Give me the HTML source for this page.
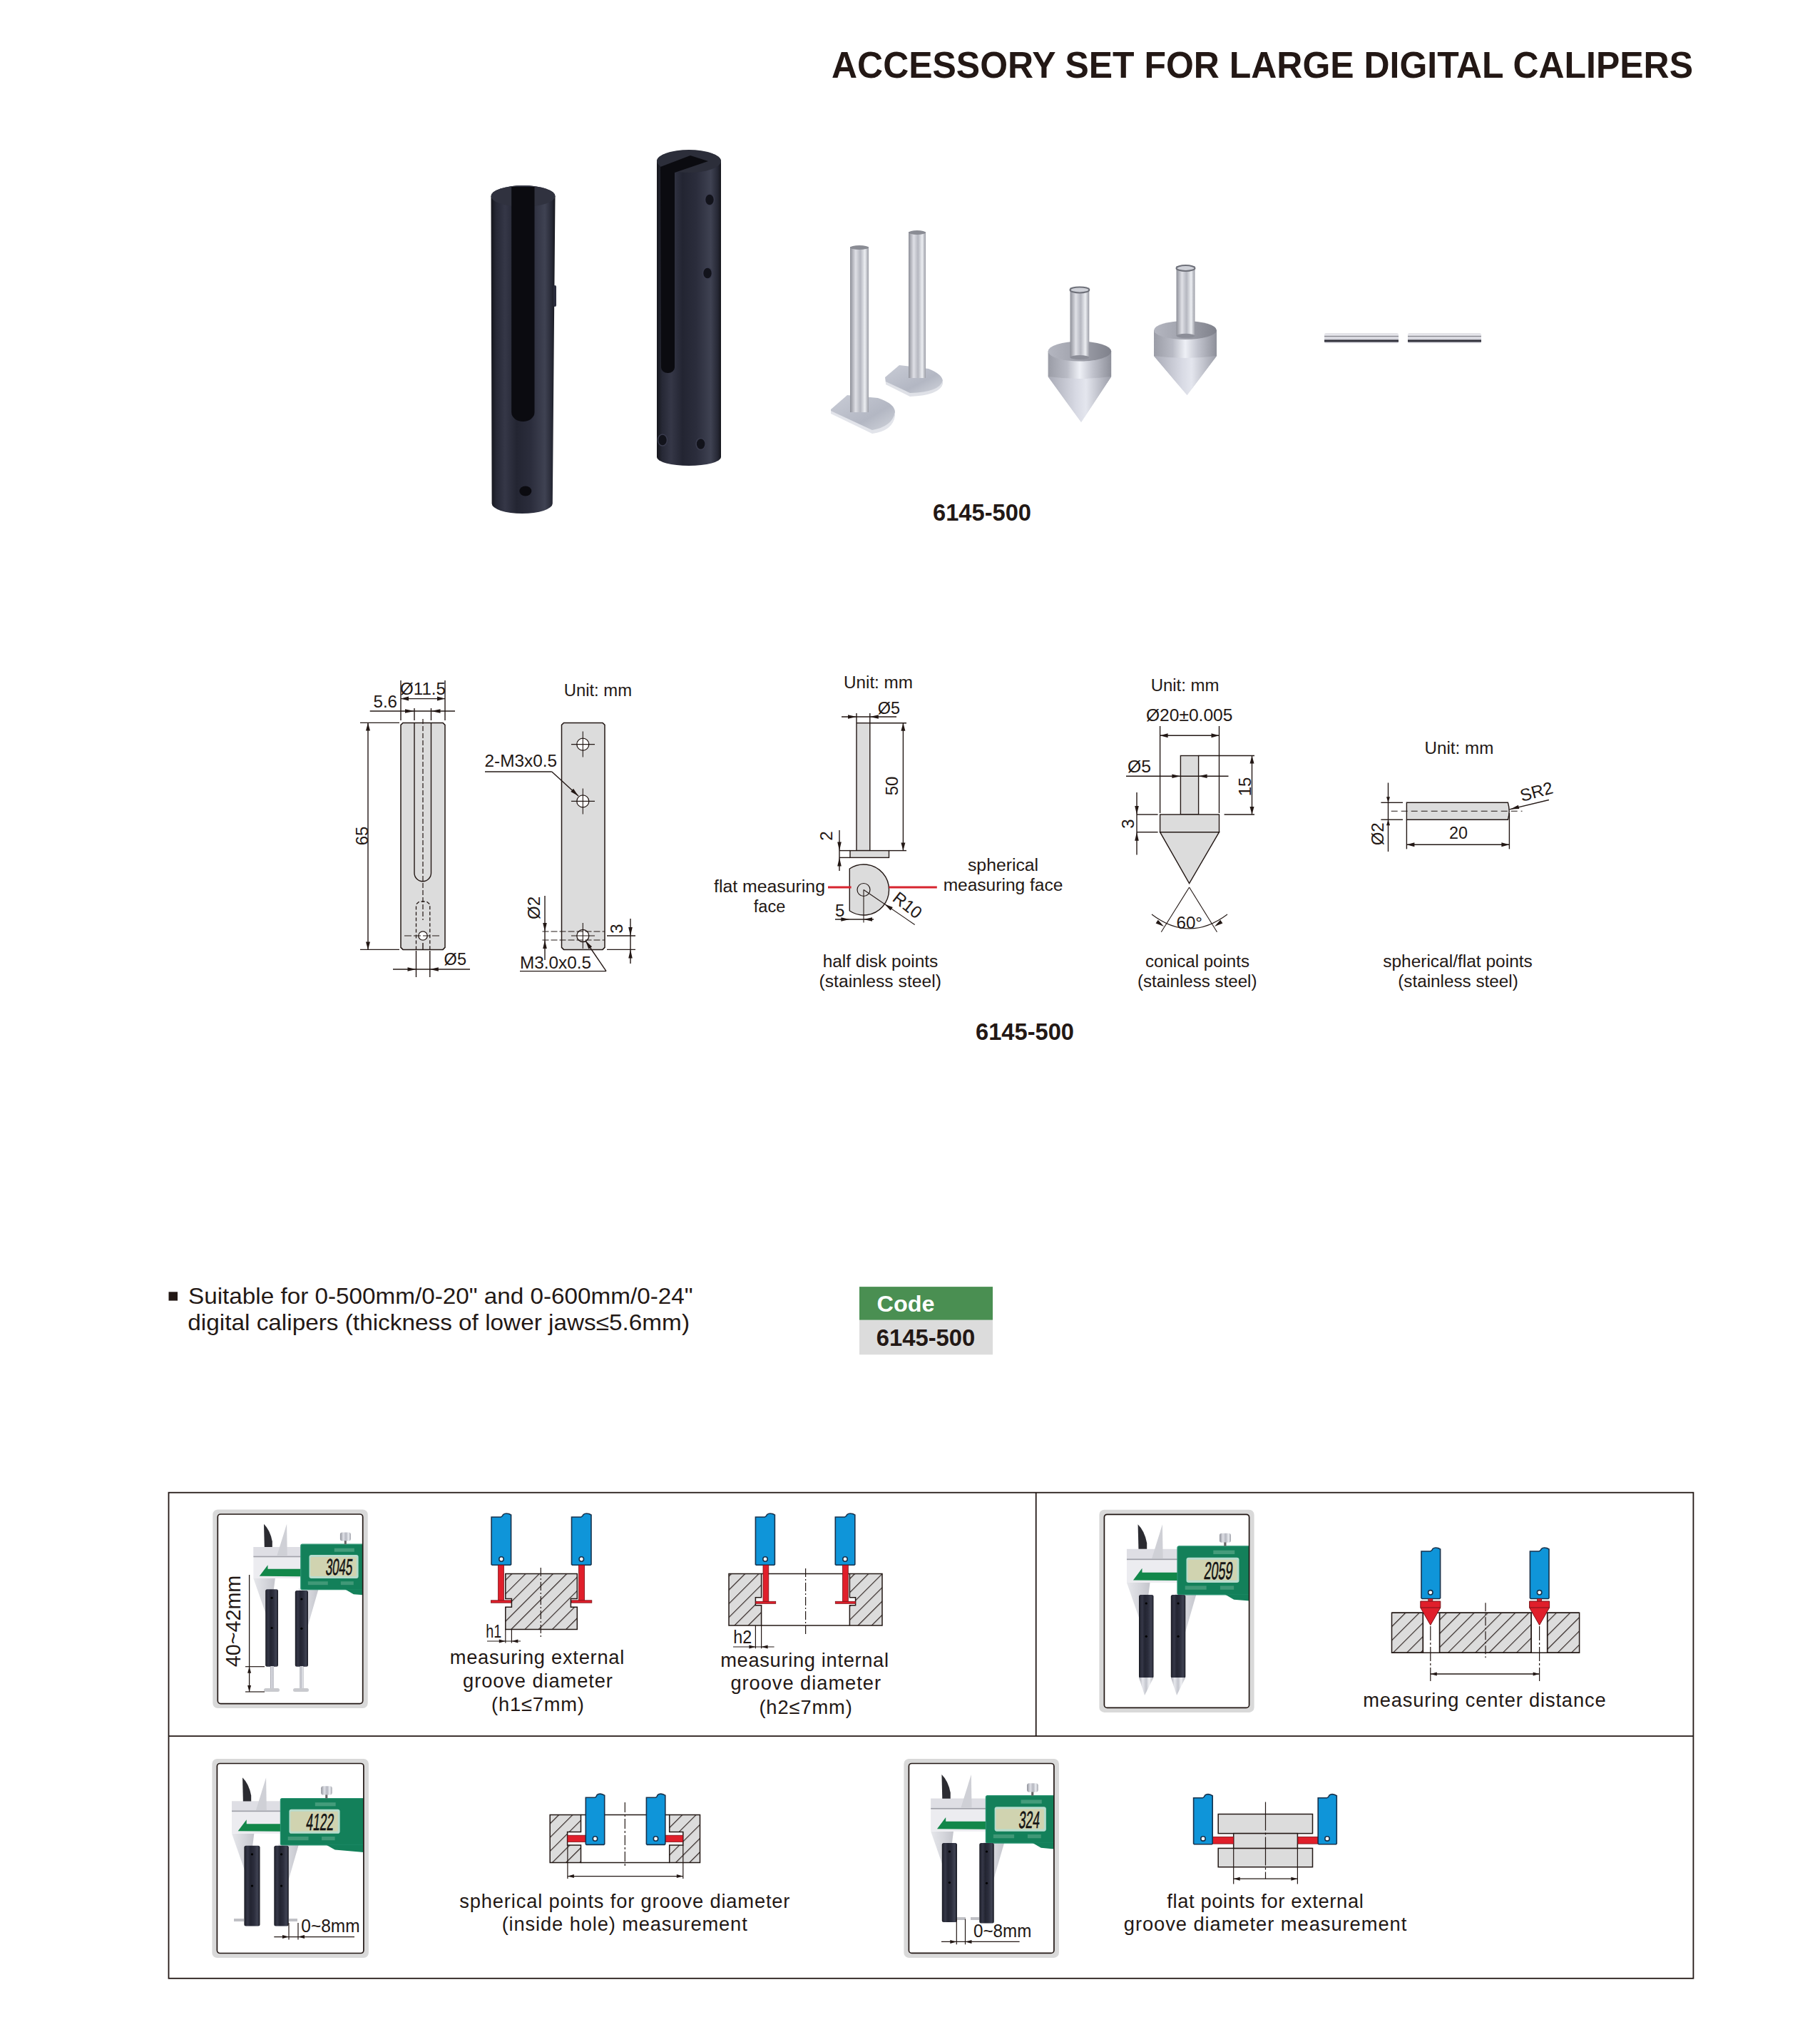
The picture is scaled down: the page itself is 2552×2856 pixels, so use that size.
<!DOCTYPE html>
<html><head><meta charset="utf-8"><style>
html,body{margin:0;padding:0;background:#fff;}
body{width:2552px;height:2856px;overflow:hidden;position:relative;}
svg{position:absolute;left:0;top:0;font-family:"Liberation Sans",sans-serif;}
</style></head><body>
<svg width="2552" height="2856" viewBox="0 0 2552 2856">
<defs>

<linearGradient id="blk" x1="0" x2="1" y1="0" y2="0">
<stop offset="0" stop-color="#15161c"/><stop offset="0.08" stop-color="#262835"/><stop offset="0.22" stop-color="#353747"/><stop offset="0.4" stop-color="#232532"/>
<stop offset="0.62" stop-color="#2b2d3c"/><stop offset="0.84" stop-color="#3f4252"/><stop offset="0.95" stop-color="#262835"/><stop offset="1" stop-color="#15161c"/></linearGradient>
<linearGradient id="cbody" x1="0" x2="1" y1="0" y2="0">
<stop offset="0" stop-color="#9a9ca6"/><stop offset="0.3" stop-color="#b9bbc5"/><stop offset="0.5" stop-color="#eef0f6"/>
<stop offset="0.7" stop-color="#c2c4ce"/><stop offset="1" stop-color="#8e909a"/></linearGradient>
<linearGradient id="ccone" x1="0" x2="1" y1="0" y2="0">
<stop offset="0" stop-color="#a9abb6"/><stop offset="0.45" stop-color="#d8dae4"/><stop offset="0.6" stop-color="#e4e6ee"/><stop offset="1" stop-color="#9c9ea9"/></linearGradient>
<linearGradient id="ctop" x1="0" x2="1" y1="0" y2="0">
<stop offset="0" stop-color="#b4b6c0"/><stop offset="0.5" stop-color="#9fa1ab"/><stop offset="1" stop-color="#7f818b"/></linearGradient>
<linearGradient id="slv" x1="0" x2="1" y1="0" y2="0">
<stop offset="0" stop-color="#8e9099"/><stop offset="0.3" stop-color="#dfe0e6"/><stop offset="0.55" stop-color="#b5b7c0"/>
<stop offset="0.8" stop-color="#eceef2"/><stop offset="1" stop-color="#9a9ca5"/></linearGradient>
<linearGradient id="slv2" x1="0" x2="1" y1="0" y2="0">
<stop offset="0" stop-color="#a7a9b2"/><stop offset="0.25" stop-color="#e6e7ec"/><stop offset="0.5" stop-color="#c3c5cd"/>
<stop offset="0.7" stop-color="#f0f1f4"/><stop offset="1" stop-color="#b4b6be"/></linearGradient>
<linearGradient id="disk" x1="0" x2="1" y1="0" y2="1">
<stop offset="0" stop-color="#c9ccd6"/><stop offset="0.6" stop-color="#b3b7c3"/><stop offset="1" stop-color="#d4d7de"/></linearGradient>
<linearGradient id="rodg" x1="0" x2="0" y1="0" y2="1">
<stop offset="0" stop-color="#d8d8de"/><stop offset="0.2" stop-color="#eeeef3"/><stop offset="0.3" stop-color="#8c8c94"/><stop offset="0.4" stop-color="#e6e6ec"/>
<stop offset="0.6" stop-color="#d0d0d8"/><stop offset="0.7" stop-color="#35353f"/><stop offset="0.82" stop-color="#2c2c36"/><stop offset="0.9" stop-color="#c8c8d0"/><stop offset="1" stop-color="#e8e8ee"/></linearGradient>
<linearGradient id="jaw" x1="0" x2="1" y1="0" y2="0"><stop offset="0" stop-color="#e6e7eb"/><stop offset="0.6" stop-color="#d3d4da"/><stop offset="1" stop-color="#c4c5cc"/></linearGradient>
<linearGradient id="grn" x1="0" x2="0" y1="0" y2="1">
<stop offset="0" stop-color="#1d7a58"/><stop offset="1" stop-color="#166648"/></linearGradient>
<clipPath id="cf1"><rect x="305.3" y="2123" width="203.39999999999998" height="265.5999999999999" rx="4"/></clipPath><clipPath id="cf2"><rect x="1548.4" y="2123.3" width="203.19999999999982" height="271.0999999999999" rx="4"/></clipPath><clipPath id="cf3"><rect x="304.4" y="2472.5" width="205.5" height="266.0" rx="4"/></clipPath><clipPath id="cf4"><rect x="1274.4" y="2472.5" width="203.5" height="265.9000000000001" rx="4"/></clipPath>
<pattern id="hatch" patternUnits="userSpaceOnUse" width="13.6" height="13.6" patternTransform="rotate(45)">
<rect width="13.6" height="13.6" fill="#dcdcdc"/><line x1="0.6" y1="0" x2="0.6" y2="13.6" stroke="#231815" stroke-width="1.1"/>
</pattern>
</defs>
<text x="1166.0" y="108.7" font-size="52" text-anchor="start" font-weight="bold" fill="#231815" textLength="1208.0" lengthAdjust="spacingAndGlyphs">ACCESSORY SET FOR LARGE DIGITAL CALIPERS</text>
<text x="1308.0" y="730.0" font-size="33" text-anchor="start" font-weight="bold" fill="#231815" textLength="138.0" lengthAdjust="spacingAndGlyphs">6145-500</text>
<text x="1368.0" y="1457.8" font-size="33" text-anchor="start" font-weight="bold" fill="#231815" textLength="138.0" lengthAdjust="spacingAndGlyphs">6145-500</text>
<path d="M565,1013.4 H621 L624,1016.4 V1328.4 L621,1331.4 H565 L562,1328.4 V1016.4 Z" fill="#dcdcdc" stroke="#231815" stroke-width="1.5"/>
<path d="M581,1013.4 V1224 A11.75,11.75 0 0 0 604.5,1224 V1013.4" fill="none" stroke="#231815" stroke-width="1.4"/>
<line x1="593.0" y1="1008.0" x2="593.0" y2="1290.0" stroke="#231815" stroke-width="1.2" stroke-dasharray="7 3"/>
<path d="M583.5,1331.4 V1268 L588,1264 H598 L602.8,1268 V1331.4" fill="none" stroke="#231815" stroke-width="1.3" stroke-dasharray="5 3"/>
<circle cx="593" cy="1312" r="6.2" fill="white" stroke="#231815" stroke-width="1.3"/>
<line x1="567.0" y1="1312.0" x2="619.0" y2="1312.0" stroke="#231815" stroke-width="1.2" stroke-dasharray="10 3"/>
<line x1="593.0" y1="1322.0" x2="593.0" y2="1331.0" stroke="#231815" stroke-width="1.4" />
<line x1="505.0" y1="1013.4" x2="560.0" y2="1013.4" stroke="#231815" stroke-width="1.4" />
<line x1="505.0" y1="1331.4" x2="560.0" y2="1331.4" stroke="#231815" stroke-width="1.4" />
<line x1="516.0" y1="1013.4" x2="516.0" y2="1331.4" stroke="#231815" stroke-width="1.4" />
<polygon points="516.0,1013.4 519.0,1024.4 513.0,1024.4" fill="#231815"/>
<polygon points="516.0,1331.4 513.0,1320.4 519.0,1320.4" fill="#231815"/>
<text x="516.0" y="1172.0" font-size="24" text-anchor="middle" font-weight="normal" fill="#231815" transform="rotate(-90 516.0 1172.0)">65</text>
<line x1="562.0" y1="954.0" x2="562.0" y2="1010.0" stroke="#231815" stroke-width="1.4" />
<line x1="581.0" y1="993.0" x2="581.0" y2="1010.0" stroke="#231815" stroke-width="1.4" />
<line x1="604.5" y1="993.0" x2="604.5" y2="1010.0" stroke="#231815" stroke-width="1.4" />
<line x1="624.0" y1="954.0" x2="624.0" y2="1010.0" stroke="#231815" stroke-width="1.4" />
<line x1="562.0" y1="979.6" x2="624.0" y2="979.6" stroke="#231815" stroke-width="1.4" />
<polygon points="562.0,979.6 573.0,976.6 573.0,982.6" fill="#231815"/>
<polygon points="624.0,979.6 613.0,982.6 613.0,976.6" fill="#231815"/>
<text x="561.0" y="973.5" font-size="24" text-anchor="start" font-weight="normal" fill="#231815" textLength="64.0" lengthAdjust="spacingAndGlyphs">Ø11.5</text>
<line x1="518.7" y1="997.0" x2="638.0" y2="997.0" stroke="#231815" stroke-width="1.4" />
<polygon points="581.0,997.0 568.0,999.8 568.0,994.2" fill="#231815"/>
<polygon points="604.5,997.0 617.5,994.2 617.5,999.8" fill="#231815"/>
<text x="523.5" y="992.0" font-size="24" text-anchor="start" font-weight="normal" fill="#231815" textLength="33.5" lengthAdjust="spacingAndGlyphs">5.6</text>
<line x1="583.5" y1="1333.0" x2="583.5" y2="1370.0" stroke="#231815" stroke-width="1.4" />
<line x1="602.8" y1="1333.0" x2="602.8" y2="1370.0" stroke="#231815" stroke-width="1.4" />
<line x1="551.0" y1="1359.0" x2="659.0" y2="1359.0" stroke="#231815" stroke-width="1.4" />
<polygon points="583.5,1359.0 571.5,1361.8 571.5,1356.2" fill="#231815"/>
<polygon points="602.8,1359.0 614.8,1356.2 614.8,1361.8" fill="#231815"/>
<text x="622.6" y="1353.0" font-size="24" text-anchor="start" font-weight="normal" fill="#231815" textLength="31.4" lengthAdjust="spacingAndGlyphs">Ø5</text>
<path d="M790.5,1013.4 H845 L848,1016.4 V1328.4 L845,1331.4 H790.5 L787.5,1328.4 V1016.4 Z" fill="#dcdcdc" stroke="#231815" stroke-width="1.5"/>
<circle cx="817.3" cy="1043.6" r="8.5" fill="white" stroke="#231815" stroke-width="1.3"/>
<line x1="801.0" y1="1043.6" x2="834.0" y2="1043.6" stroke="#231815" stroke-width="1.1" />
<line x1="817.3" y1="1025.6" x2="817.3" y2="1061.6" stroke="#231815" stroke-width="1.1" />
<circle cx="817.3" cy="1123.4" r="8.5" fill="white" stroke="#231815" stroke-width="1.3"/>
<line x1="801.0" y1="1123.4" x2="834.0" y2="1123.4" stroke="#231815" stroke-width="1.1" />
<line x1="817.3" y1="1105.4" x2="817.3" y2="1141.4" stroke="#231815" stroke-width="1.1" />
<circle cx="817.3" cy="1312" r="8.5" fill="white" stroke="#231815" stroke-width="1.3"/>
<line x1="801.0" y1="1312.0" x2="834.0" y2="1312.0" stroke="#231815" stroke-width="1.1" />
<line x1="817.3" y1="1294.0" x2="817.3" y2="1330.0" stroke="#231815" stroke-width="1.1" />
<text x="790.7" y="976.0" font-size="23.5" text-anchor="start" font-weight="normal" fill="#231815" textLength="95.3" lengthAdjust="spacingAndGlyphs">Unit: mm</text>
<text x="679.5" y="1075.0" font-size="24" text-anchor="start" font-weight="normal" fill="#231815" textLength="101.5" lengthAdjust="spacingAndGlyphs">2-M3x0.5</text>
<line x1="680.0" y1="1082.0" x2="773.8" y2="1082.0" stroke="#231815" stroke-width="1.4" />
<line x1="773.8" y1="1082.0" x2="811.0" y2="1116.0" stroke="#231815" stroke-width="1.4" />
<polygon points="811.0,1116.0 800.3,1110.0 804.0,1105.8" fill="#231815"/>
<line x1="760.5" y1="1306.0" x2="848.0" y2="1306.0" stroke="#231815" stroke-width="1.1" stroke-dasharray="9 3"/>
<line x1="760.5" y1="1318.0" x2="848.0" y2="1318.0" stroke="#231815" stroke-width="1.1" stroke-dasharray="9 3"/>
<line x1="764.0" y1="1256.0" x2="764.0" y2="1346.0" stroke="#231815" stroke-width="1.4" />
<polygon points="764.0,1306.0 761.2,1294.0 766.8,1294.0" fill="#231815"/>
<polygon points="764.0,1318.0 766.8,1330.0 761.2,1330.0" fill="#231815"/>
<text x="757.0" y="1273.0" font-size="24" text-anchor="middle" font-weight="normal" fill="#231815" transform="rotate(-90 757.0 1273.0)">Ø2</text>
<line x1="851.0" y1="1312.0" x2="891.0" y2="1312.0" stroke="#231815" stroke-width="1.4" />
<line x1="851.0" y1="1331.4" x2="891.0" y2="1331.4" stroke="#231815" stroke-width="1.4" />
<line x1="884.0" y1="1288.0" x2="884.0" y2="1351.0" stroke="#231815" stroke-width="1.4" />
<polygon points="884.0,1312.0 881.2,1300.0 886.8,1300.0" fill="#231815"/>
<polygon points="884.0,1331.4 886.8,1343.4 881.2,1343.4" fill="#231815"/>
<text x="873.0" y="1302.0" font-size="24" text-anchor="middle" font-weight="normal" fill="#231815" transform="rotate(-90 873.0 1302.0)">3</text>
<text x="729.0" y="1358.0" font-size="24" text-anchor="start" font-weight="normal" fill="#231815" textLength="100.0" lengthAdjust="spacingAndGlyphs">M3.0x0.5</text>
<line x1="729.0" y1="1361.6" x2="850.0" y2="1361.6" stroke="#231815" stroke-width="1.4" />
<line x1="850.0" y1="1361.6" x2="821.0" y2="1319.0" stroke="#231815" stroke-width="1.4" />
<polygon points="821.0,1319.0 830.1,1327.3 825.4,1330.5" fill="#231815"/>
<text x="1183.0" y="965.0" font-size="23.5" text-anchor="start" font-weight="normal" fill="#231815" textLength="97.0" lengthAdjust="spacingAndGlyphs">Unit: mm</text>
<rect x="1201.0" y="1013.7" width="18.8" height="178.9" fill="#dcdcdc" stroke="#231815" stroke-width="1.4" />
<rect x="1192.0" y="1192.6" width="54.5" height="9.8" fill="#dcdcdc" stroke="#231815" stroke-width="1.4" />
<line x1="1201.0" y1="1000.0" x2="1201.0" y2="1013.0" stroke="#231815" stroke-width="1.4" />
<line x1="1219.8" y1="1000.0" x2="1219.8" y2="1013.0" stroke="#231815" stroke-width="1.4" />
<line x1="1180.0" y1="1005.0" x2="1257.0" y2="1005.0" stroke="#231815" stroke-width="1.4" />
<polygon points="1201.0,1005.0 1189.0,1007.8 1189.0,1002.2" fill="#231815"/>
<polygon points="1219.8,1005.0 1231.8,1002.2 1231.8,1007.8" fill="#231815"/>
<text x="1230.7" y="1001.0" font-size="24" text-anchor="start" font-weight="normal" fill="#231815" textLength="31.3" lengthAdjust="spacingAndGlyphs">Ø5</text>
<line x1="1219.8" y1="1013.7" x2="1271.0" y2="1013.7" stroke="#231815" stroke-width="1.4" />
<line x1="1246.5" y1="1192.6" x2="1271.0" y2="1192.6" stroke="#231815" stroke-width="1.4" />
<line x1="1266.4" y1="1013.7" x2="1266.4" y2="1192.6" stroke="#231815" stroke-width="1.4" />
<polygon points="1266.4,1013.7 1269.4,1024.7 1263.4,1024.7" fill="#231815"/>
<polygon points="1266.4,1192.6 1263.4,1181.6 1269.4,1181.6" fill="#231815"/>
<text x="1259.0" y="1102.0" font-size="24" text-anchor="middle" font-weight="normal" fill="#231815" transform="rotate(-90 1259.0 1102.0)">50</text>
<line x1="1177.0" y1="1192.6" x2="1192.0" y2="1192.6" stroke="#231815" stroke-width="1.4" />
<line x1="1177.0" y1="1202.4" x2="1192.0" y2="1202.4" stroke="#231815" stroke-width="1.4" />
<line x1="1177.0" y1="1164.0" x2="1177.0" y2="1221.0" stroke="#231815" stroke-width="1.4" />
<polygon points="1177.0,1192.6 1174.2,1180.6 1179.8,1180.6" fill="#231815"/>
<polygon points="1177.0,1202.4 1179.8,1214.4 1174.2,1214.4" fill="#231815"/>
<text x="1167.0" y="1172.0" font-size="24" text-anchor="middle" font-weight="normal" fill="#231815" transform="rotate(-90 1167.0 1172.0)">2</text>
<path d="M1191.3,1218.0 A35.5,35.5 0 1 1 1191.3,1277.0 Z" fill="#dcdcdc" stroke="#231815" stroke-width="1.4"/>
<circle cx="1211" cy="1247.5" r="9" fill="none" stroke="#231815" stroke-width="1.2"/>
<line x1="1211.0" y1="1247.5" x2="1211.0" y2="1293.5" stroke="#231815" stroke-width="1.1" />
<line x1="1171.0" y1="1289.0" x2="1225.0" y2="1289.0" stroke="#231815" stroke-width="1.4" />
<polygon points="1191.3,1289.0 1179.3,1291.8 1179.3,1286.2" fill="#231815"/>
<polygon points="1211.0,1289.0 1223.0,1286.2 1223.0,1291.8" fill="#231815"/>
<text x="1171.0" y="1284.6" font-size="24" text-anchor="start" font-weight="normal" fill="#231815">5</text>
<line x1="1211.0" y1="1247.5" x2="1282.7" y2="1296.5" stroke="#231815" stroke-width="1.1" />
<polygon points="1240.3,1267.5 1251.8,1272.0 1248.6,1276.6" fill="#231815"/>
<text x="1250.0" y="1262.0" font-size="24" text-anchor="start" font-weight="normal" fill="#231815" transform="rotate(38 1250.0 1262.0)">R10</text>
<line x1="1161.0" y1="1244.0" x2="1193.6" y2="1244.0" stroke="#d7242f" stroke-width="3" />
<line x1="1246.5" y1="1244.0" x2="1313.8" y2="1244.0" stroke="#d7242f" stroke-width="3" />
<text x="1079.0" y="1250.5" font-size="23.5" text-anchor="middle" font-weight="normal" fill="#231815" textLength="156.0" lengthAdjust="spacingAndGlyphs">flat measuring</text>
<text x="1079.0" y="1279.0" font-size="23.5" text-anchor="middle" font-weight="normal" fill="#231815">face</text>
<text x="1406.5" y="1221.0" font-size="23.5" text-anchor="middle" font-weight="normal" fill="#231815" textLength="99.0" lengthAdjust="spacingAndGlyphs">spherical</text>
<text x="1406.5" y="1249.0" font-size="23.5" text-anchor="middle" font-weight="normal" fill="#231815" textLength="167.7" lengthAdjust="spacingAndGlyphs">measuring face</text>
<text x="1234.5" y="1356.0" font-size="23.5" text-anchor="middle" font-weight="normal" fill="#231815" textLength="161.7" lengthAdjust="spacingAndGlyphs">half disk points</text>
<text x="1234.2" y="1384.0" font-size="23.5" text-anchor="middle" font-weight="normal" fill="#231815" textLength="171.3" lengthAdjust="spacingAndGlyphs">(stainless steel)</text>
<text x="1613.7" y="968.9" font-size="23.5" text-anchor="start" font-weight="normal" fill="#231815" textLength="95.8" lengthAdjust="spacingAndGlyphs">Unit: mm</text>
<text x="1607.0" y="1011.0" font-size="24" text-anchor="start" font-weight="normal" fill="#231815" textLength="121.4" lengthAdjust="spacingAndGlyphs">Ø20±0.005</text>
<line x1="1626.6" y1="1018.0" x2="1626.6" y2="1140.0" stroke="#231815" stroke-width="1.4" />
<line x1="1709.5" y1="1018.0" x2="1709.5" y2="1140.0" stroke="#231815" stroke-width="1.4" />
<line x1="1626.6" y1="1031.3" x2="1709.5" y2="1031.3" stroke="#231815" stroke-width="1.4" />
<polygon points="1626.6,1031.3 1637.6,1028.3 1637.6,1034.3" fill="#231815"/>
<polygon points="1709.5,1031.3 1698.5,1034.3 1698.5,1028.3" fill="#231815"/>
<rect x="1655.4" y="1059.5" width="25.2" height="82.5" fill="#dcdcdc" stroke="#231815" stroke-width="1.4" />
<rect x="1626.6" y="1142.0" width="82.9" height="24.7" fill="#dcdcdc" stroke="#231815" stroke-width="1.4" />
<polygon points="1626.6,1166.7 1709.5,1166.7 1667.6,1238.5" fill="#dcdcdc" stroke="#231815" stroke-width="1.4"/>
<text x="1581.0" y="1083.0" font-size="24" text-anchor="start" font-weight="normal" fill="#231815" textLength="33.0" lengthAdjust="spacingAndGlyphs">Ø5</text>
<line x1="1579.0" y1="1088.3" x2="1722.5" y2="1088.3" stroke="#231815" stroke-width="1.4" />
<polygon points="1655.4,1088.3 1643.4,1091.1 1643.4,1085.5" fill="#231815"/>
<polygon points="1680.6,1088.3 1692.6,1085.5 1692.6,1091.1" fill="#231815"/>
<line x1="1680.6" y1="1059.5" x2="1759.0" y2="1059.5" stroke="#231815" stroke-width="1.4" />
<line x1="1716.6" y1="1142.0" x2="1759.0" y2="1142.0" stroke="#231815" stroke-width="1.4" />
<line x1="1755.5" y1="1059.5" x2="1755.5" y2="1142.0" stroke="#231815" stroke-width="1.4" />
<polygon points="1755.5,1059.5 1758.5,1070.5 1752.5,1070.5" fill="#231815"/>
<polygon points="1755.5,1142.0 1752.5,1131.0 1758.5,1131.0" fill="#231815"/>
<text x="1754.0" y="1103.0" font-size="24" text-anchor="middle" font-weight="normal" fill="#231815" transform="rotate(-90 1754.0 1103.0)">15</text>
<line x1="1594.0" y1="1142.0" x2="1623.6" y2="1142.0" stroke="#231815" stroke-width="1.4" />
<line x1="1594.0" y1="1166.7" x2="1623.6" y2="1166.7" stroke="#231815" stroke-width="1.4" />
<line x1="1594.0" y1="1111.0" x2="1594.0" y2="1198.5" stroke="#231815" stroke-width="1.4" />
<polygon points="1594.0,1142.0 1591.2,1130.0 1596.8,1130.0" fill="#231815"/>
<polygon points="1594.0,1166.7 1596.8,1178.7 1591.2,1178.7" fill="#231815"/>
<text x="1590.0" y="1155.0" font-size="24" text-anchor="middle" font-weight="normal" fill="#231815" transform="rotate(-90 1590.0 1155.0)">3</text>
<line x1="1667.6" y1="1244.0" x2="1628.3" y2="1306.8" stroke="#231815" stroke-width="1.1" />
<line x1="1667.6" y1="1244.0" x2="1706.5" y2="1306.8" stroke="#231815" stroke-width="1.1" />
<path d="M1615,1282 Q1667.6,1322 1721,1282" fill="none" stroke="#231815" stroke-width="1.1"/>
<polygon points="1632.0,1299.0 1620.6,1294.4 1623.8,1289.8" fill="#231815"/>
<polygon points="1703.0,1299.0 1711.2,1289.8 1714.4,1294.4" fill="#231815"/>
<text x="1649.5" y="1302.0" font-size="24" text-anchor="start" font-weight="normal" fill="#231815" textLength="36.5" lengthAdjust="spacingAndGlyphs">60°</text>
<text x="1679.0" y="1356.0" font-size="23.5" text-anchor="middle" font-weight="normal" fill="#231815" textLength="146.0" lengthAdjust="spacingAndGlyphs">conical points</text>
<text x="1678.7" y="1384.0" font-size="23.5" text-anchor="middle" font-weight="normal" fill="#231815" textLength="167.5" lengthAdjust="spacingAndGlyphs">(stainless steel)</text>
<text x="1997.6" y="1057.3" font-size="23.5" text-anchor="start" font-weight="normal" fill="#231815" textLength="96.7" lengthAdjust="spacingAndGlyphs">Unit: mm</text>
<path d="M1972.4,1125.3 H2114.4 Q2118,1137.2 2114.4,1149.2 H1972.4 Z" fill="#dcdcdc" stroke="#231815" stroke-width="1.4"/>
<line x1="1950.7" y1="1137.2" x2="2134.5" y2="1137.2" stroke="#231815" stroke-width="1.1" stroke-dasharray="9 5"/>
<line x1="1936.4" y1="1125.3" x2="1967.0" y2="1125.3" stroke="#231815" stroke-width="1.4" />
<line x1="1936.4" y1="1149.2" x2="1967.0" y2="1149.2" stroke="#231815" stroke-width="1.4" />
<line x1="1946.5" y1="1097.5" x2="1946.5" y2="1194.0" stroke="#231815" stroke-width="1.4" />
<polygon points="1946.5,1125.3 1944.0,1117.3 1949.0,1117.3" fill="#231815"/>
<polygon points="1946.5,1149.2 1949.0,1157.2 1944.0,1157.2" fill="#231815"/>
<text x="1940.0" y="1169.3" font-size="24" text-anchor="middle" font-weight="normal" fill="#231815" transform="rotate(-90 1940.0 1169.3)">Ø2</text>
<line x1="1972.4" y1="1149.0" x2="1972.4" y2="1190.4" stroke="#231815" stroke-width="1.4" />
<line x1="2116.4" y1="1140.0" x2="2116.4" y2="1190.4" stroke="#231815" stroke-width="1.4" />
<line x1="1972.4" y1="1184.3" x2="2116.4" y2="1184.3" stroke="#231815" stroke-width="1.4" />
<polygon points="1972.4,1184.3 1983.4,1181.3 1983.4,1187.3" fill="#231815"/>
<polygon points="2116.4,1184.3 2105.4,1187.3 2105.4,1181.3" fill="#231815"/>
<text x="2045.0" y="1176.0" font-size="24" text-anchor="middle" font-weight="normal" fill="#231815" textLength="26.0" lengthAdjust="spacingAndGlyphs">20</text>
<line x1="2171.9" y1="1121.5" x2="2116.4" y2="1134.9" stroke="#231815" stroke-width="1.4" />
<polygon points="2118.0,1134.5 2128.9,1128.7 2130.3,1134.1" fill="#231815"/>
<text x="2134.0" y="1124.0" font-size="24" text-anchor="start" font-weight="normal" fill="#231815" transform="rotate(-15 2134.0 1124.0)">SR2</text>
<text x="2044.0" y="1356.0" font-size="23.5" text-anchor="middle" font-weight="normal" fill="#231815" textLength="209.7" lengthAdjust="spacingAndGlyphs">spherical/flat points</text>
<text x="2044.5" y="1384.0" font-size="23.5" text-anchor="middle" font-weight="normal" fill="#231815" textLength="168.5" lengthAdjust="spacingAndGlyphs">(stainless steel)</text>
<rect x="236.5" y="1811.3" width="12.5" height="12.3" fill="#231815"/>
<text x="264.0" y="1827.8" font-size="30.5" text-anchor="start" font-weight="normal" fill="#231815" textLength="707.6" lengthAdjust="spacingAndGlyphs">Suitable for 0-500mm/0-20" and 0-600mm/0-24"</text>
<text x="263.3" y="1864.7" font-size="30.5" text-anchor="start" font-weight="normal" fill="#231815" textLength="703.7" lengthAdjust="spacingAndGlyphs">digital calipers (thickness of lower jaws≤5.6mm)</text>
<rect x="1205" y="1804.1" width="187" height="46.7" fill="#4a8f52"/>
<rect x="1205" y="1850.8" width="187" height="48.5" fill="#dcdcdc"/>
<text x="1229.5" y="1839.3" font-size="31.5" text-anchor="start" font-weight="bold" fill="#ffffff" textLength="81.0" lengthAdjust="spacingAndGlyphs">Code</text>
<text x="1228.8" y="1886.8" font-size="33" text-anchor="start" font-weight="bold" fill="#231815" textLength="138.5" lengthAdjust="spacingAndGlyphs">6145-500</text>
<rect x="236.5" y="2092.7" width="2137.9" height="681.1" fill="none" stroke="#231815" stroke-width="1.8"/>
<line x1="236.5" y1="2434.1" x2="2374.4" y2="2434.1" stroke="#231815" stroke-width="1.8" />
<line x1="1452.7" y1="2092.7" x2="1452.7" y2="2434.1" stroke="#231815" stroke-width="1.8" />
<path d="M688.5,275 A45,15 0 0 1 778.5,275 L774.8,706 A42.6,14 0 0 1 689.6,706 Z" fill="url(#blk)"/>
<ellipse cx="733.5" cy="275" rx="45" ry="15" fill="#30323f"/>
<path d="M717.2,262 H749.5 V578 A16.15,13 0 0 1 717.2,578 Z" fill="#0b0b10"/>
<ellipse cx="736.8" cy="688.5" rx="8.5" ry="7" fill="#0b0b10"/>
<rect x="776" y="400" width="4" height="30" rx="2" fill="#2a2c3c"/>
<path d="M921,225 A45,14 0 0 1 1011,225 V641 A45,12 0 0 1 921,641 Z" fill="url(#blk)"/>
<ellipse cx="966" cy="226" rx="45" ry="16" fill="#2c2e3a"/>
<path d="M926,234 L968,218 L993,226 L946,242 V515 A9.5,8 0 0 1 927,515 Z" fill="#0b0b10"/>
<ellipse cx="995" cy="280" rx="6.5" ry="8" fill="#12131b" stroke="#3a3c4e" stroke-width="1.5"/>
<ellipse cx="992" cy="383" rx="6.5" ry="8" fill="#12131b" stroke="#3a3c4e" stroke-width="1.5"/>
<ellipse cx="982.6" cy="622.5" rx="6.5" ry="8" fill="#12131b" stroke="#3a3c4e" stroke-width="1.5"/>
<ellipse cx="929" cy="617" rx="6.5" ry="8" fill="#12131b" stroke="#3a3c4e" stroke-width="1.5"/>
<path d="M1165,574 L1188,554 L1231,558 Q1255,566 1255,578 Q1253,600 1223,607 L1165,579 Z" fill="url(#disk)"/>
<path d="M1165,576 L1223,603 Q1251,598 1255,578 L1255,583 Q1252,604 1223,608 L1165,580 Z" fill="#e2e4ea"/>
<rect x="1192" y="346" width="26" height="232" fill="url(#slv)"/>
<ellipse cx="1205" cy="347" rx="13" ry="3" fill="#8a8c94"/>
<path d="M1241,529 L1261,512 L1302,517 Q1322,525 1322,535 Q1318,552 1276,554 L1242,537 Z" fill="url(#disk)"/>
<path d="M1242,535 L1276,551 Q1318,550 1322,533 L1322,538 Q1318,554 1276,556 L1242,539 Z" fill="#dfe1e7"/>
<rect x="1274" y="325" width="24" height="205" fill="url(#slv)"/>
<ellipse cx="1286" cy="326" rx="12" ry="3" fill="#8a8c94"/>
<path d="M1469.6,492.6 V528 L1516,592 L1558.2,528 V492.6 Z" fill="url(#cbody)"/>
<path d="M1469.6,528 L1516,592 L1558.2,528 Q1513.9,534 1469.6,528 Z" fill="url(#ccone)"/>
<ellipse cx="1513.9" cy="492.6" rx="44.30000000000007" ry="14" fill="url(#ctop)"/>
<rect x="1500.5" y="403.4" width="26.799999999999955" height="97.60000000000002" fill="url(#slv)"/>
<ellipse cx="1513.9" cy="501.0" rx="13.399999999999977" ry="3" fill="#8c8e98"/>
<ellipse cx="1513.9" cy="406.4" rx="13.399999999999977" ry="4" fill="#cfd1d8" stroke="#6e7079" stroke-width="2"/>
<path d="M1618,463 V499 L1664.5,554 L1706,499 V463 Z" fill="url(#cbody)"/>
<path d="M1618,499 L1664.5,554 L1706,499 Q1662.0,505 1618,499 Z" fill="url(#ccone)"/>
<ellipse cx="1662.0" cy="463" rx="44.0" ry="13" fill="url(#ctop)"/>
<rect x="1649.5" y="373" width="26.0" height="97.80000000000001" fill="url(#slv)"/>
<ellipse cx="1662.5" cy="470.8" rx="13.0" ry="3" fill="#8c8e98"/>
<ellipse cx="1662.5" cy="376" rx="13.0" ry="4" fill="#cfd1d8" stroke="#6e7079" stroke-width="2"/>
<rect x="1857" y="467.3" width="104" height="14" rx="2" fill="url(#rodg)"/>
<rect x="1974" y="467.3" width="103" height="14" rx="2" fill="url(#rodg)"/>
<path d="M708.8,2206.5 H809.3 V2241.4 H800.4 V2253.2 H809.3 V2284.6 H708.8 V2253.2 H717.4 V2241.4 H708.8 Z" fill="url(#hatch)" stroke="#231815" stroke-width="1.5"/>
<line x1="758.3" y1="2198.0" x2="758.3" y2="2295.6" stroke="#231815" stroke-width="1.2" stroke-dasharray="12 3 2 3"/>
<path d="M689.1,2127 L702.3,2127 Q704.5,2126.5 705.6,2123.5 Q708.4,2121 713.6,2122.5 L716.6,2124 V2193.3 L715.6,2194.3 H690.1 L689.1,2193.3 Z" fill="#0f95d9" stroke="#17324d" stroke-width="1.6"/>
<circle cx="703" cy="2186" r="3.2" fill="#fff" stroke="#17324d" stroke-width="1.6"/>
<path d="M801.5,2127 L814.7,2127 Q816.9,2126.5 818.0,2123.5 Q820.8,2121 826.0,2122.5 L829,2124 V2193.3 L828,2194.3 H802.5 L801.5,2193.3 Z" fill="#0f95d9" stroke="#17324d" stroke-width="1.6"/>
<circle cx="815.3" cy="2186" r="3.2" fill="#fff" stroke="#17324d" stroke-width="1.6"/>
<rect x="698.6" y="2194.3" width="7.8" height="50" fill="#e01f2b" stroke="#7a1218" stroke-width="0.8"/>
<rect x="688.4" y="2243.8" width="28.2" height="3.4" fill="#e01f2b" stroke="#7a1218" stroke-width="0.8"/>
<rect x="811.4" y="2194.3" width="8.2" height="50" fill="#e01f2b" stroke="#7a1218" stroke-width="0.8"/>
<rect x="801.5" y="2243.8" width="28.3" height="3.4" fill="#e01f2b" stroke="#7a1218" stroke-width="0.8"/>
<line x1="708.8" y1="2284.0" x2="708.8" y2="2303.5" stroke="#231815" stroke-width="1.2" />
<line x1="717.4" y1="2284.0" x2="717.4" y2="2303.5" stroke="#231815" stroke-width="1.2" />
<line x1="683.0" y1="2301.0" x2="730.0" y2="2301.0" stroke="#231815" stroke-width="1.2" />
<polygon points="708.8,2301.0 699.8,2303.5 699.8,2298.5" fill="#231815"/>
<polygon points="717.4,2301.0 726.4,2298.5 726.4,2303.5" fill="#231815"/>
<text x="681.3" y="2296.4" font-size="25" text-anchor="start" font-weight="normal" fill="#231815" textLength="22.0" lengthAdjust="spacingAndGlyphs">h1</text>
<text x="753.0" y="2332.6" font-size="27.3" text-anchor="middle" font-weight="normal" fill="#231815" textLength="244.6" lengthAdjust="spacing">measuring external</text>
<text x="754.0" y="2365.6" font-size="27.3" text-anchor="middle" font-weight="normal" fill="#231815" textLength="209.8" lengthAdjust="spacing">groove diameter</text>
<text x="754.0" y="2399.3" font-size="27.3" text-anchor="middle" font-weight="normal" fill="#231815" textLength="129.8" lengthAdjust="spacing">(h1≤7mm)</text>
<path d="M1022,2206.5 H1067.6 V2239.8 H1059.4 V2250.8 H1067.6 V2279.1 H1022 Z" fill="url(#hatch)" stroke="#231815" stroke-width="1.5"/>
<path d="M1237,2206.5 H1191.4 V2239.8 H1199.6 V2250.8 H1191.4 V2279.1 H1237 Z" fill="url(#hatch)" stroke="#231815" stroke-width="1.5"/>
<line x1="1067.6" y1="2206.5" x2="1191.4" y2="2206.5" stroke="#231815" stroke-width="1.5" />
<line x1="1067.6" y1="2279.1" x2="1191.4" y2="2279.1" stroke="#231815" stroke-width="1.5" />
<line x1="1129.6" y1="2199.0" x2="1129.6" y2="2291.7" stroke="#231815" stroke-width="1.2" stroke-dasharray="12 3 2 3"/>
<path d="M1059.4,2127 L1072.4,2127 Q1074.5,2126.5 1075.6,2123.5 Q1078.3,2121 1083.4,2122.5 L1086.4,2124 V2193.3 L1085.4,2194.3 H1060.4 L1059.4,2193.3 Z" fill="#0f95d9" stroke="#17324d" stroke-width="1.6"/>
<circle cx="1073" cy="2186" r="3.2" fill="#fff" stroke="#17324d" stroke-width="1.6"/>
<path d="M1171.3,2127 L1184.5,2127 Q1186.7,2126.5 1187.8,2123.5 Q1190.5,2121 1195.8,2122.5 L1198.8,2124 V2193.3 L1197.8,2194.3 H1172.3 L1171.3,2193.3 Z" fill="#0f95d9" stroke="#17324d" stroke-width="1.6"/>
<circle cx="1185" cy="2186" r="3.2" fill="#fff" stroke="#17324d" stroke-width="1.6"/>
<rect x="1070" y="2194.3" width="7.8" height="51" fill="#e01f2b" stroke="#7a1218" stroke-width="0.8"/>
<rect x="1059.7" y="2245.3" width="28" height="3" fill="#e01f2b" stroke="#7a1218" stroke-width="0.8"/>
<rect x="1181.5" y="2194.3" width="7.8" height="51" fill="#e01f2b" stroke="#7a1218" stroke-width="0.8"/>
<rect x="1171.3" y="2245.3" width="28.3" height="3" fill="#e01f2b" stroke="#7a1218" stroke-width="0.8"/>
<line x1="1059.4" y1="2279.0" x2="1059.4" y2="2311.3" stroke="#231815" stroke-width="1.2" />
<line x1="1067.6" y1="2279.0" x2="1067.6" y2="2311.3" stroke="#231815" stroke-width="1.2" />
<line x1="1028.0" y1="2309.0" x2="1085.6" y2="2309.0" stroke="#231815" stroke-width="1.2" />
<polygon points="1059.4,2309.0 1050.4,2311.5 1050.4,2306.5" fill="#231815"/>
<polygon points="1067.6,2309.0 1076.6,2306.5 1076.6,2311.5" fill="#231815"/>
<text x="1028.3" y="2304.3" font-size="25" text-anchor="start" font-weight="normal" fill="#231815" textLength="25.9" lengthAdjust="spacingAndGlyphs">h2</text>
<text x="1128.1" y="2336.5" font-size="27.3" text-anchor="middle" font-weight="normal" fill="#231815" textLength="235.8" lengthAdjust="spacing">measuring internal</text>
<text x="1129.7" y="2368.5" font-size="27.3" text-anchor="middle" font-weight="normal" fill="#231815" textLength="210.6" lengthAdjust="spacing">groove diameter</text>
<text x="1129.6" y="2402.5" font-size="27.3" text-anchor="middle" font-weight="normal" fill="#231815" textLength="130.4" lengthAdjust="spacing">(h2≤7mm)</text>
<path d="M1951.5,2261.2 H1995.4 V2317.2 H1951.5 Z" fill="url(#hatch)" stroke="#231815" stroke-width="1.5"/>
<path d="M2018.5,2261.2 H2147.2 V2317.2 H2018.5 Z" fill="url(#hatch)" stroke="#231815" stroke-width="1.5"/>
<path d="M2169.6,2261.2 H2214.6 V2317.2 H2169.6 Z" fill="url(#hatch)" stroke="#231815" stroke-width="1.5"/>
<rect x="1995.4" y="2261.2" width="23.1" height="56" fill="#fff"/>
<rect x="2147.2" y="2261.2" width="22.4" height="56" fill="#fff"/>
<line x1="1951.5" y1="2261.2" x2="2214.6" y2="2261.2" stroke="#231815" stroke-width="1.5" />
<line x1="1951.5" y1="2317.2" x2="2214.6" y2="2317.2" stroke="#231815" stroke-width="1.5" />
<line x1="1995.4" y1="2261.2" x2="1995.4" y2="2317.2" stroke="#231815" stroke-width="1.5" />
<line x1="2018.5" y1="2261.2" x2="2018.5" y2="2317.2" stroke="#231815" stroke-width="1.5" />
<line x1="2147.2" y1="2261.2" x2="2147.2" y2="2317.2" stroke="#231815" stroke-width="1.5" />
<line x1="2169.6" y1="2261.2" x2="2169.6" y2="2317.2" stroke="#231815" stroke-width="1.5" />
<line x1="2083.0" y1="2247.3" x2="2083.0" y2="2325.8" stroke="#231815" stroke-width="1.2" stroke-dasharray="12 3 2 3"/>
<path d="M1993,2175 L2005.8,2175 Q2007.9,2174.5 2009.0,2171.5 Q2011.6,2169 2016.6,2170.5 L2019.6,2172 V2240.5 L2018.6,2241.5 H1994 L1993,2240.5 Z" fill="#0f95d9" stroke="#17324d" stroke-width="1.6"/>
<circle cx="2005.8" cy="2232.8" r="3.2" fill="#fff" stroke="#17324d" stroke-width="1.6"/>
<rect x="2002.8" y="2241.5" width="6" height="4" fill="#e01f2b" stroke="#7a1218" stroke-width="0.8"/>
<path d="M1991.8,2245 H2019.8 V2254 L2005.8,2278.5 L1991.8,2254 Z" fill="#e01f2b" stroke="#7a1218" stroke-width="1"/>
<line x1="1991.8" y1="2254.0" x2="2019.8" y2="2254.0" stroke="#7a1218" stroke-width="1" />
<line x1="2005.8" y1="2280.0" x2="2005.8" y2="2357.0" stroke="#231815" stroke-width="1.2" stroke-dasharray="20 3 3 3"/>
<path d="M2145.4,2175 L2158.2,2175 Q2160.3,2174.5 2161.4,2171.5 Q2164.0,2169 2169.0,2170.5 L2172,2172 V2240.5 L2171,2241.5 H2146.4 L2145.4,2240.5 Z" fill="#0f95d9" stroke="#17324d" stroke-width="1.6"/>
<circle cx="2158.6" cy="2232.8" r="3.2" fill="#fff" stroke="#17324d" stroke-width="1.6"/>
<rect x="2155.6" y="2241.5" width="6" height="4" fill="#e01f2b" stroke="#7a1218" stroke-width="0.8"/>
<path d="M2144.6,2245 H2172.6 V2254 L2158.6,2278.5 L2144.6,2254 Z" fill="#e01f2b" stroke="#7a1218" stroke-width="1"/>
<line x1="2144.6" y1="2254.0" x2="2172.6" y2="2254.0" stroke="#7a1218" stroke-width="1" />
<line x1="2158.6" y1="2280.0" x2="2158.6" y2="2357.0" stroke="#231815" stroke-width="1.2" stroke-dasharray="20 3 3 3"/>
<line x1="2005.8" y1="2347.0" x2="2158.6" y2="2347.0" stroke="#231815" stroke-width="1.3" />
<polygon points="2005.8,2347.0 2014.8,2344.5 2014.8,2349.5" fill="#231815"/>
<polygon points="2158.6,2347.0 2149.6,2349.5 2149.6,2344.5" fill="#231815"/>
<text x="2081.4" y="2392.7" font-size="27.3" text-anchor="middle" font-weight="normal" fill="#231815" textLength="340.4" lengthAdjust="spacing">measuring center distance</text>
<path d="M771.2,2544.4 H814.5 V2568.6 H795.6 V2587 H814.5 V2611.4 H771.2 Z" fill="url(#hatch)" stroke="#231815" stroke-width="1.5"/>
<path d="M981.5,2544.4 H938.7 V2568.6 H957.8 V2587 H938.7 V2611.4 H981.5 Z" fill="url(#hatch)" stroke="#231815" stroke-width="1.5"/>
<line x1="814.5" y1="2544.4" x2="938.7" y2="2544.4" stroke="#231815" stroke-width="1.5" />
<line x1="814.5" y1="2611.4" x2="938.7" y2="2611.4" stroke="#231815" stroke-width="1.5" />
<line x1="876.3" y1="2527.0" x2="876.3" y2="2618.7" stroke="#231815" stroke-width="1.2" stroke-dasharray="14 3 3 3"/>
<rect x="795.9" y="2573.2" width="26" height="9.2" fill="#e01f2b" stroke="#7a1218" stroke-width="0.8"/>
<rect x="932" y="2573.2" width="25.5" height="9.2" fill="#e01f2b" stroke="#7a1218" stroke-width="0.8"/>
<path d="M821.3,2520.2 L834.0,2520.2 Q836.1,2519.7 837.1,2516.7 Q839.8,2514.2 844.7,2515.7 L847.7,2517.2 V2585.4 L846.7,2586.4 H822.3 L821.3,2585.4 Z" fill="#0f95d9" stroke="#17324d" stroke-width="1.6"/>
<circle cx="834.5" cy="2578" r="3.2" fill="#fff" stroke="#17324d" stroke-width="1.6"/>
<path d="M906.4,2520.2 L919.1,2520.2 Q921.2,2519.7 922.2,2516.7 Q924.9,2514.2 929.8,2515.7 L932.8,2517.2 V2585.4 L931.8,2586.4 H907.4 L906.4,2585.4 Z" fill="#0f95d9" stroke="#17324d" stroke-width="1.6"/>
<circle cx="919.5" cy="2578" r="3.2" fill="#fff" stroke="#17324d" stroke-width="1.6"/>
<line x1="795.9" y1="2587.0" x2="795.9" y2="2633.9" stroke="#231815" stroke-width="1.2" />
<line x1="957.8" y1="2587.0" x2="957.8" y2="2633.9" stroke="#231815" stroke-width="1.2" />
<line x1="795.9" y1="2630.6" x2="957.8" y2="2630.6" stroke="#231815" stroke-width="1.3" />
<polygon points="795.9,2630.6 804.9,2628.1 804.9,2633.1" fill="#231815"/>
<polygon points="957.8,2630.6 948.8,2633.1 948.8,2628.1" fill="#231815"/>
<text x="875.9" y="2674.7" font-size="27.3" text-anchor="middle" font-weight="normal" fill="#231815" textLength="463.1" lengthAdjust="spacing">spherical points for groove diameter</text>
<text x="875.7" y="2707.0" font-size="27.3" text-anchor="middle" font-weight="normal" fill="#231815" textLength="344.1" lengthAdjust="spacing">(inside hole) measurement</text>
<rect x="1708.2" y="2543.5" width="132.3" height="27.1" fill="#dcdcdc" stroke="#231815" stroke-width="1.5" />
<rect x="1708.2" y="2591.4" width="132.3" height="26.3" fill="#dcdcdc" stroke="#231815" stroke-width="1.5" />
<rect x="1729.7" y="2570.6" width="89.7" height="20.8" fill="#dcdcdc" stroke="#231815" stroke-width="1.5" />
<line x1="1774.5" y1="2526.6" x2="1774.5" y2="2634.2" stroke="#231815" stroke-width="1.2" stroke-dasharray="40 3 3 3"/>
<rect x="1700.2" y="2575.4" width="29.5" height="9.7" fill="#e01f2b" stroke="#7a1218" stroke-width="0.8"/>
<rect x="1819.9" y="2575.4" width="28.3" height="9.7" fill="#e01f2b" stroke="#7a1218" stroke-width="0.8"/>
<path d="M1673.6,2520.7 L1686.4,2520.7 Q1688.5,2520.2 1689.6,2517.2 Q1692.2,2514.7 1697.2,2516.2 L1700.2,2517.7 V2584.8 L1699.2,2585.8 H1674.6 L1673.6,2584.8 Z" fill="#0f95d9" stroke="#17324d" stroke-width="1.6"/>
<circle cx="1687" cy="2577.9" r="3.2" fill="#fff" stroke="#17324d" stroke-width="1.6"/>
<path d="M1848.2,2520.7 L1860.7,2520.7 Q1862.8,2520.2 1863.9,2517.2 Q1866.5,2514.7 1871.3,2516.2 L1874.3,2517.7 V2584.8 L1873.3,2585.8 H1849.2 L1848.2,2584.8 Z" fill="#0f95d9" stroke="#17324d" stroke-width="1.6"/>
<circle cx="1861" cy="2577.9" r="3.2" fill="#fff" stroke="#17324d" stroke-width="1.6"/>
<line x1="1729.7" y1="2591.0" x2="1729.7" y2="2641.4" stroke="#231815" stroke-width="1.2" />
<line x1="1819.4" y1="2591.0" x2="1819.4" y2="2641.4" stroke="#231815" stroke-width="1.2" />
<line x1="1729.7" y1="2634.2" x2="1819.4" y2="2634.2" stroke="#231815" stroke-width="1.3" />
<polygon points="1729.7,2634.2 1738.7,2631.7 1738.7,2636.7" fill="#231815"/>
<polygon points="1819.4,2634.2 1810.4,2636.7 1810.4,2631.7" fill="#231815"/>
<text x="1774.0" y="2674.6" font-size="27.3" text-anchor="middle" font-weight="normal" fill="#231815" textLength="275.6" lengthAdjust="spacing">flat points for external</text>
<text x="1774.0" y="2706.7" font-size="27.3" text-anchor="middle" font-weight="normal" fill="#231815" textLength="396.5" lengthAdjust="spacing">groove diameter measurement</text>
<rect x="298.3" y="2116.5" width="217.39999999999998" height="278.5999999999999" rx="7" fill="#d9d9d9"/>
<rect x="305.3" y="2123" width="203.39999999999998" height="265.5999999999999" rx="4" fill="#fff"/>
<g clip-path="url(#cf1)"><g transform="translate(421.8,2165.2) scale(1.0)"><polygon points="-66.4,47.8 -36,47.8 -44,112" fill="url(#jaw)"/><polygon points="-3.3,62 25,62 10,114" fill="url(#jaw)"/><rect x="-66.4" y="3.8" width="66.4" height="44" fill="#ececf0"/><rect x="-66.4" y="3.8" width="66.4" height="13" fill="#dedee4"/><rect x="-66.4" y="16.5" width="66.4" height="1.6" fill="#9fa0a8"/><path d="M-51.8,-28.5 Q-43,-20 -40,-4 L-40,3.8 L-51,3.8 Z" fill="#2b2b31"/><polygon points="-19.7,-28.5 -33.5,16 -19,16" fill="#cfd0d6"/><polygon points="-58,44.5 -46.3,29 -46.3,34.6 0,34.6 0,45 " fill="#12874a"/><rect x="0" y="0" width="120" height="63.5" rx="2" fill="#13805a" stroke="#2a9472" stroke-width="1.2"/><polygon points="62,63 120,63 120,74 74,70" fill="#13805a"/><rect x="55.1" y="-16.8" width="15" height="12" rx="3" fill="url(#slv)"/><rect x="61" y="-5" width="3" height="5" fill="#666"/><rect x="47" y="5.5" width="28" height="5" fill="#6db398" opacity="0.55"/><rect x="11.7" y="14.8" width="69.1" height="33" rx="3" fill="#b7dccd"/><rect x="13.5" y="17.8" width="64.5" height="27" rx="1.5" fill="#d0d3b0"/><text x="76" y="43" font-size="32" text-anchor="end" fill="#141414" stroke="#141414" stroke-width="0.6" transform="skewX(-6)" textLength="37.4" lengthAdjust="spacingAndGlyphs">3045</text><rect x="10" y="52" width="28" height="5" fill="#5fa88a" opacity="0.6"/><rect x="56" y="52" width="18" height="5" fill="#5fa88a" opacity="0.6"/></g></g>
<g clip-path="url(#cf1)"><rect x="372.2" y="2228.3" width="17.80000000000001" height="108.39999999999964" rx="2.5" fill="url(#blk)"/><circle cx="381.1" cy="2240.3" r="1.6" fill="#000"/><circle cx="381.1" cy="2282.5" r="1.6" fill="#000"/></g>
<g clip-path="url(#cf1)"><rect x="413.8" y="2230" width="18.19999999999999" height="106.69999999999982" rx="2.5" fill="url(#blk)"/><circle cx="422.9" cy="2242" r="1.6" fill="#000"/><circle cx="422.9" cy="2283.35" r="1.6" fill="#000"/></g>
<rect x="379" y="2336" width="5" height="33" fill="url(#slv)"/><rect x="370" y="2367" width="22" height="5" rx="2.5" fill="#c9cace"/>
<rect x="420.5" y="2336" width="5" height="33" fill="url(#slv)"/><rect x="411" y="2367" width="22" height="5" rx="2.5" fill="#c9cace"/>
<rect x="305.3" y="2123" width="203.39999999999998" height="265.5999999999999" rx="4" fill="none" stroke="#231815" stroke-width="1.7"/>
<line x1="349.6" y1="2208.0" x2="349.6" y2="2372.0" stroke="#231815" stroke-width="1.3" />
<line x1="344.0" y1="2336.7" x2="371.0" y2="2336.7" stroke="#231815" stroke-width="1.2" />
<line x1="344.0" y1="2372.0" x2="371.0" y2="2372.0" stroke="#231815" stroke-width="1.2" />
<polygon points="349.6,2336.7 352.1,2345.7 347.1,2345.7" fill="#231815"/>
<polygon points="349.6,2372.0 347.1,2363.0 352.1,2363.0" fill="#231815"/>
<text x="337.0" y="2273.0" font-size="29" text-anchor="middle" font-weight="normal" fill="#231815" textLength="128.6" lengthAdjust="spacingAndGlyphs" transform="rotate(-90 337.0 2273.0)">40~42mm</text>
<rect x="1541.4" y="2116.8" width="217.19999999999982" height="284.0999999999999" rx="7" fill="#d9d9d9"/>
<rect x="1548.4" y="2123.3" width="203.19999999999982" height="271.0999999999999" rx="4" fill="#fff"/>
<g clip-path="url(#cf2)"><g transform="translate(1651,2167.8) scale(1.07)"><polygon points="-66.4,47.8 -36,47.8 -44,112" fill="url(#jaw)"/><polygon points="-3.3,62 25,62 10,114" fill="url(#jaw)"/><rect x="-66.4" y="3.8" width="66.4" height="44" fill="#ececf0"/><rect x="-66.4" y="3.8" width="66.4" height="13" fill="#dedee4"/><rect x="-66.4" y="16.5" width="66.4" height="1.6" fill="#9fa0a8"/><path d="M-51.8,-28.5 Q-43,-20 -40,-4 L-40,3.8 L-51,3.8 Z" fill="#2b2b31"/><polygon points="-19.7,-28.5 -33.5,16 -19,16" fill="#cfd0d6"/><polygon points="-58,44.5 -46.3,29 -46.3,34.6 0,34.6 0,45 " fill="#12874a"/><rect x="0" y="0" width="120" height="63.5" rx="2" fill="#13805a" stroke="#2a9472" stroke-width="1.2"/><polygon points="62,63 120,63 120,74 74,70" fill="#13805a"/><rect x="55.1" y="-16.8" width="15" height="12" rx="3" fill="url(#slv)"/><rect x="61" y="-5" width="3" height="5" fill="#666"/><rect x="47" y="5.5" width="28" height="5" fill="#6db398" opacity="0.55"/><rect x="11.7" y="14.8" width="69.1" height="33" rx="3" fill="#b7dccd"/><rect x="13.5" y="17.8" width="64.5" height="27" rx="1.5" fill="#d0d3b0"/><text x="76" y="43" font-size="32" text-anchor="end" fill="#141414" stroke="#141414" stroke-width="0.6" transform="skewX(-6)" textLength="37.4" lengthAdjust="spacingAndGlyphs">2059</text><rect x="10" y="52" width="28" height="5" fill="#5fa88a" opacity="0.6"/><rect x="56" y="52" width="18" height="5" fill="#5fa88a" opacity="0.6"/></g></g>
<g clip-path="url(#cf2)"><rect x="1597" y="2236" width="20.5" height="116.69999999999982" rx="2.5" fill="url(#blk)"/><circle cx="1607.25" cy="2248" r="1.6" fill="#000"/><circle cx="1607.25" cy="2294.35" r="1.6" fill="#000"/></g>
<g clip-path="url(#cf2)"><rect x="1641.8" y="2236" width="20.5" height="116.69999999999982" rx="2.5" fill="url(#blk)"/><circle cx="1652.05" cy="2248" r="1.6" fill="#000"/><circle cx="1652.05" cy="2294.35" r="1.6" fill="#000"/></g>
<polygon points="1597,2352 1617.5,2352 1605,2377" fill="url(#slv2)"/><polygon points="1641.8,2352 1662.3,2352 1650,2377" fill="url(#slv2)"/>
<rect x="1548.4" y="2123.3" width="203.19999999999982" height="271.0999999999999" rx="4" fill="none" stroke="#231815" stroke-width="1.7"/>
<rect x="297.4" y="2466.0" width="219.5" height="279.0" rx="7" fill="#d9d9d9"/>
<rect x="304.4" y="2472.5" width="205.5" height="266.0" rx="4" fill="#fff"/>
<g clip-path="url(#cf3)"><g transform="translate(393.4,2521.5) scale(1.03)"><polygon points="-66.4,47.8 -36,47.8 -44,112" fill="url(#jaw)"/><polygon points="-3.3,62 25,62 10,114" fill="url(#jaw)"/><rect x="-66.4" y="3.8" width="66.4" height="44" fill="#ececf0"/><rect x="-66.4" y="3.8" width="66.4" height="13" fill="#dedee4"/><rect x="-66.4" y="16.5" width="66.4" height="1.6" fill="#9fa0a8"/><path d="M-51.8,-28.5 Q-43,-20 -40,-4 L-40,3.8 L-51,3.8 Z" fill="#2b2b31"/><polygon points="-19.7,-28.5 -33.5,16 -19,16" fill="#cfd0d6"/><polygon points="-58,44.5 -46.3,29 -46.3,34.6 0,34.6 0,45 " fill="#12874a"/><rect x="0" y="0" width="120" height="63.5" rx="2" fill="#13805a" stroke="#2a9472" stroke-width="1.2"/><polygon points="62,63 120,63 120,74 74,70" fill="#13805a"/><rect x="55.1" y="-16.8" width="15" height="12" rx="3" fill="url(#slv)"/><rect x="61" y="-5" width="3" height="5" fill="#666"/><rect x="47" y="5.5" width="28" height="5" fill="#6db398" opacity="0.55"/><rect x="11.7" y="14.8" width="69.1" height="33" rx="3" fill="#b7dccd"/><rect x="13.5" y="17.8" width="64.5" height="27" rx="1.5" fill="#d0d3b0"/><text x="76" y="43" font-size="32" text-anchor="end" fill="#141414" stroke="#141414" stroke-width="0.6" transform="skewX(-6)" textLength="37.4" lengthAdjust="spacingAndGlyphs">4122</text><rect x="10" y="52" width="28" height="5" fill="#5fa88a" opacity="0.6"/><rect x="56" y="52" width="18" height="5" fill="#5fa88a" opacity="0.6"/></g></g>
<g clip-path="url(#cf3)"><rect x="342.4" y="2587.8" width="22.100000000000023" height="112.59999999999991" rx="2.5" fill="url(#blk)"/><circle cx="353.45" cy="2599.8" r="1.6" fill="#000"/><circle cx="353.45" cy="2644.1000000000004" r="1.6" fill="#000"/></g>
<g clip-path="url(#cf3)"><rect x="384.3" y="2587.8" width="20.5" height="112.59999999999991" rx="2.5" fill="url(#blk)"/><circle cx="394.55" cy="2599.8" r="1.6" fill="#000"/><circle cx="394.55" cy="2644.1000000000004" r="1.6" fill="#000"/></g>
<rect x="328" y="2690" width="14" height="4" fill="#bfc0c5"/><rect x="405" y="2690" width="12" height="4" fill="#bfc0c5"/>
<rect x="304.4" y="2472.5" width="205.5" height="266.0" rx="4" fill="none" stroke="#231815" stroke-width="1.7"/>
<line x1="405.0" y1="2696.0" x2="405.0" y2="2719.4" stroke="#231815" stroke-width="1.2" />
<line x1="418.0" y1="2696.0" x2="418.0" y2="2719.4" stroke="#231815" stroke-width="1.2" />
<line x1="384.3" y1="2715.6" x2="497.0" y2="2715.6" stroke="#231815" stroke-width="1.2" />
<polygon points="405.0,2715.6 396.0,2718.1 396.0,2713.1" fill="#231815"/>
<polygon points="418.0,2715.6 427.0,2713.1 427.0,2718.1" fill="#231815"/>
<text x="422.3" y="2708.8" font-size="25" text-anchor="start" font-weight="normal" fill="#231815" textLength="82.2" lengthAdjust="spacingAndGlyphs">0~8mm</text>
<rect x="1267.4" y="2466.0" width="217.5" height="278.9000000000001" rx="7" fill="#d9d9d9"/>
<rect x="1274.4" y="2472.5" width="203.5" height="265.9000000000001" rx="4" fill="#fff"/>
<g clip-path="url(#cf4)"><g transform="translate(1382.4,2517.7) scale(1.045)"><polygon points="-73.9,47.8 -43.5,47.8 -51.5,112" fill="url(#jaw)"/><polygon points="-3.3,62 25,62 10,114" fill="url(#jaw)"/><rect x="-73.9" y="3.8" width="73.9" height="44" fill="#ececf0"/><rect x="-73.9" y="3.8" width="73.9" height="13" fill="#dedee4"/><rect x="-73.9" y="16.5" width="73.9" height="1.6" fill="#9fa0a8"/><path d="M-59.3,-28.5 Q-50.5,-20 -47.5,-4 L-47.5,3.8 L-58.5,3.8 Z" fill="#2b2b31"/><polygon points="-19.7,-28.5 -33.5,16 -19,16" fill="#cfd0d6"/><polygon points="-65.5,44.5 -53.8,29 -53.8,34.6 0,34.6 0,45 " fill="#12874a"/><rect x="0" y="0" width="120" height="63.5" rx="2" fill="#13805a" stroke="#2a9472" stroke-width="1.2"/><polygon points="62,63 120,63 120,74 74,70" fill="#13805a"/><rect x="55.1" y="-16.8" width="15" height="12" rx="3" fill="url(#slv)"/><rect x="61" y="-5" width="3" height="5" fill="#666"/><rect x="47" y="5.5" width="28" height="5" fill="#6db398" opacity="0.55"/><rect x="11.7" y="14.8" width="69.1" height="33" rx="3" fill="#b7dccd"/><rect x="13.5" y="17.8" width="64.5" height="27" rx="1.5" fill="#d0d3b0"/><text x="76" y="43" font-size="32" text-anchor="end" fill="#141414" stroke="#141414" stroke-width="0.6" transform="skewX(-6)" textLength="28.0" lengthAdjust="spacingAndGlyphs">324</text><rect x="10" y="52" width="28" height="5" fill="#5fa88a" opacity="0.6"/><rect x="56" y="52" width="18" height="5" fill="#5fa88a" opacity="0.6"/></g></g>
<g clip-path="url(#cf4)"><rect x="1320.8" y="2584" width="21.200000000000045" height="111" rx="2.5" fill="url(#blk)"/><circle cx="1331.4" cy="2596" r="1.6" fill="#000"/><circle cx="1331.4" cy="2639.5" r="1.6" fill="#000"/></g>
<g clip-path="url(#cf4)"><rect x="1373.3" y="2584" width="20.5" height="112.59999999999991" rx="2.5" fill="url(#blk)"/><circle cx="1383.55" cy="2596" r="1.6" fill="#000"/><circle cx="1383.55" cy="2640.3" r="1.6" fill="#000"/></g>
<rect x="1342" y="2688" width="12" height="4" fill="#bfc0c5"/><rect x="1361" y="2688" width="12" height="4" fill="#bfc0c5"/>
<rect x="1274.4" y="2472.5" width="203.5" height="265.9000000000001" rx="4" fill="none" stroke="#231815" stroke-width="1.7"/>
<line x1="1341.3" y1="2690.5" x2="1341.3" y2="2726.3" stroke="#231815" stroke-width="1.2" />
<line x1="1353.5" y1="2690.5" x2="1353.5" y2="2726.3" stroke="#231815" stroke-width="1.2" />
<line x1="1320.0" y1="2722.4" x2="1429.6" y2="2722.4" stroke="#231815" stroke-width="1.2" />
<polygon points="1341.3,2722.4 1332.3,2724.9 1332.3,2719.9" fill="#231815"/>
<polygon points="1353.5,2722.4 1362.5,2719.9 1362.5,2724.9" fill="#231815"/>
<text x="1365.0" y="2716.4" font-size="25" text-anchor="start" font-weight="normal" fill="#231815" textLength="81.3" lengthAdjust="spacingAndGlyphs">0~8mm</text>
</svg>
</body></html>
